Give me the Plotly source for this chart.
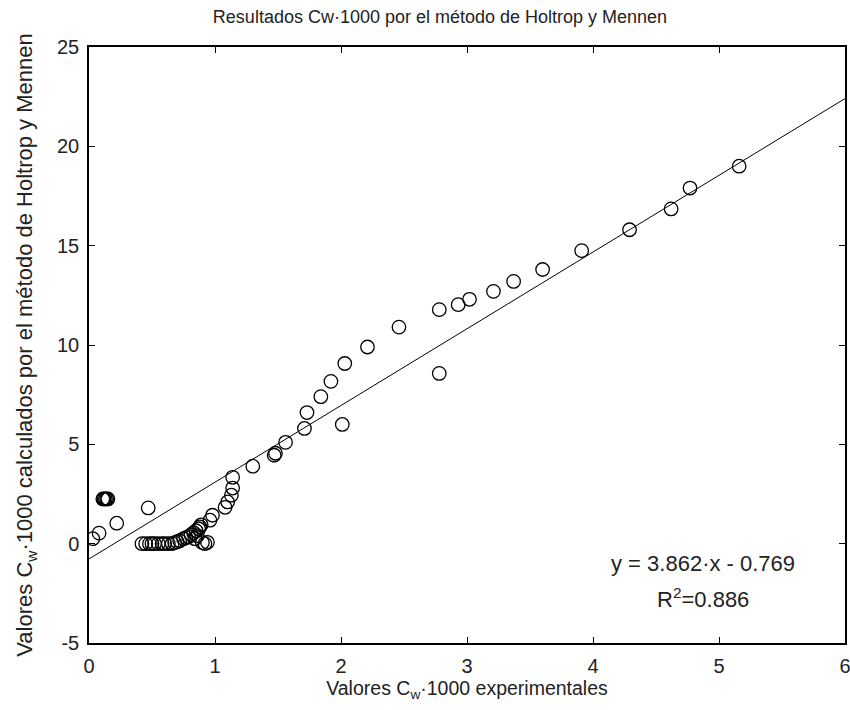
import plotly.graph_objects as go

# Experimental Cw*1000 values and the values calculated by Holtrop & Mennen
cw_exp = [0.03, 0.08, 0.11, 0.12, 0.13, 0.14, 0.15, 0.22, 0.47,
          0.42, 0.45, 0.48, 0.50, 0.52, 0.55, 0.58, 0.60, 0.63, 0.66,
          0.68, 0.70, 0.72, 0.75, 0.77, 0.79, 0.81, 0.83, 0.84, 0.85, 0.86,
          0.87, 0.88, 0.89, 0.90, 0.92, 0.94, 0.96, 0.98,
          1.08, 1.10, 1.13, 1.14, 1.14, 1.30,
          1.47, 1.48, 1.56, 1.71, 1.73, 1.84, 1.92, 2.01, 2.03, 2.21, 2.46,
          2.78, 2.78, 2.93, 3.02, 3.21, 3.37, 3.60, 3.91, 4.29, 4.62, 4.77, 5.16]
cw_calc = [0.25, 0.53, 2.25, 2.25, 2.25, 2.25, 2.25, 1.03, 1.80,
           0.0, 0.0, 0.0, 0.0, 0.0, 0.0, 0.0, 0.0, 0.0, 0.0,
           0.05, 0.10, 0.15, 0.25, 0.30, 0.35, 0.45, 0.55, 0.25, 0.65, 0.40,
           0.75, 0.85, 0.95, 0.05, 0.0, 0.07, 1.18, 1.43,
           1.83, 2.10, 2.44, 2.80, 3.34, 3.90,
           4.45, 4.55, 5.10, 5.80, 6.60, 7.40, 8.17, 6.00, 9.07, 9.90, 10.90,
           8.57, 11.78, 12.03, 12.30, 12.70, 13.20, 13.80, 14.75, 15.80, 16.85, 17.90, 19.00]

# Linear fit shown on the chart
slope = 3.862
intercept = -0.769
fit_x = [0, 6]
fit_y = [slope * v + intercept for v in fit_x]

x_ticks = [0, 1, 2, 3, 4, 5, 6]
x_labels = ["0", "1", "2", "3", "4", "5", "6"]
y_ticks = [-5, 0, 5, 10, 15, 20, 25]
y_labels = ["-5", "0", "5", "10", "15", "20", "25"]

font_family = "Liberation Sans, Arial, sans-serif"
text_color = "#222"

fig = go.Figure()
fig.add_trace(go.Scatter(
    x=cw_exp, y=cw_calc, mode="markers",
    marker=dict(symbol="circle-open", size=13.5, color="black",
                line=dict(width=1.3, color="black")),
    showlegend=False,
))
fig.add_trace(go.Scatter(
    x=fit_x, y=fit_y, mode="lines",
    line=dict(color="black", width=1),
    showlegend=False,
))

axis_common = dict(
    showgrid=False, zeroline=False, showline=True, linecolor="black",
    linewidth=1.5, mirror="ticks", ticks="inside", ticklen=6,
    tickcolor="black", tickfont=dict(size=20, color=text_color),
    automargin=False, ticklabeloverflow="allow",
)

fig.update_layout(
    width=850, height=710,
    margin=dict(l=89, r=5, t=47, b=67),
    paper_bgcolor="white", plot_bgcolor="white",
    font=dict(family=font_family, color=text_color),
    title=dict(text="Resultados Cw·1000 por el método de Holtrop y Mennen",
               x=440 / 850, xanchor="center", y=1 - 17 / 710, yanchor="middle",
               font=dict(size=18)),
    xaxis=dict(range=[0, 6], tickvals=x_ticks, ticktext=x_labels,
               ticklabelstandoff=4,
               title=dict(text="Valores C<sub>w</sub>·1000 experimentales",
                          font=dict(size=19.5), standoff=2),
               **axis_common),
    yaxis=dict(range=[-5, 25], tickvals=y_ticks, ticktext=y_labels,
               ticklabelstandoff=4,
               title=dict(text="Valores C<sub>w</sub>·1000 calculados por el método de Holtrop y Mennen",
                          font=dict(size=22), standoff=18),
               **axis_common),
    annotations=[
        dict(x=4.87, y=-0.98, xref="x", yref="y",
             text="y = 3.862·x - 0.769", showarrow=False,
             font=dict(size=22, color=text_color)),
        dict(x=4.87, y=-2.75, xref="x", yref="y",
             text="R<sup>2</sup>=0.886", showarrow=False,
             font=dict(size=22, color=text_color)),
    ],
)

fig.write_html("out.html")
